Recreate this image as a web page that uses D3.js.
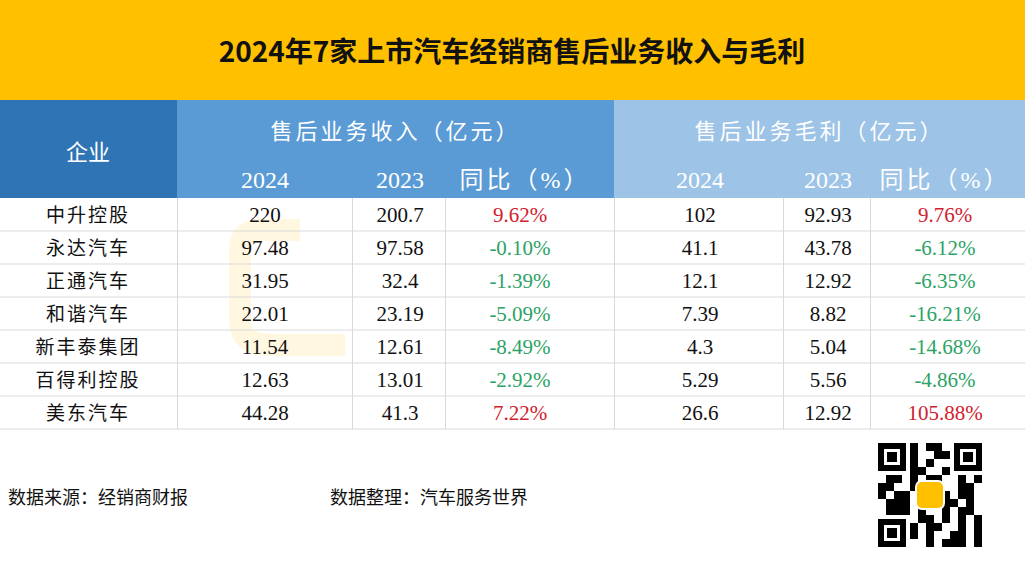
<!DOCTYPE html>
<html><head><meta charset="utf-8">
<script src="https://cdn.jsdelivr.net/npm/d3@7"></script>
<style>body{margin:0;background:#fff}svg{display:block}</style>
</head><body><svg id="c" width="1025" height="564"></svg>
<script>
const title = "2024年7家上市汽车经销商售后业务收入与毛利";
const companies = ["中升控股","永达汽车","正通汽车","和谐汽车","新丰泰集团","百得利控股","美东汽车"];
const rev2024 = ["220","97.48","31.95","22.01","11.54","12.63","44.28"];
const rev2023 = ["200.7","97.58","32.4","23.19","12.61","13.01","41.3"];
const revYoY = ["9.62%","-0.10%","-1.39%","-5.09%","-8.49%","-2.92%","7.22%"];
const gp2024 = ["102","41.1","12.1","7.39","4.3","5.29","26.6"];
const gp2023 = ["92.93","43.78","12.92","8.82","5.04","5.56","12.92"];
const gpYoY = ["9.76%","-6.12%","-6.35%","-16.21%","-14.68%","-4.86%","105.88%"];
const groupHeaders = ["售后业务收入（亿元）","售后业务毛利（亿元）"];
const subHeaders = ["2024","2023","同比（%）"];
const firstHeader = "企业";
const sources = ["数据来源：经销商财报","数据整理：汽车服务世界"];

const svg = d3.select("#c");
const serif = "'Liberation Serif','Noto Sans CJK SC',serif";
const cjk = "'Noto Sans CJK SC',sans-serif";
const colEdges = [0,177,352,445,614,783,870,1025];
const y = d3.scaleBand().domain(d3.range(companies.length)).range([198,429]);

svg.append("rect").attr("width",1025).attr("height",100).attr("fill","#FFC000");
svg.append("text").attr("x",512).attr("y",62).attr("text-anchor","middle")
  .attr("font-family",cjk).attr("font-weight","bold").attr("font-size",28).attr("fill","#111").text(title);

svg.append("rect").attr("x",0).attr("y",100).attr("width",177).attr("height",98).attr("fill","#2F75B5");
svg.append("rect").attr("x",177).attr("y",100).attr("width",437).attr("height",98).attr("fill","#5B9BD5");
svg.append("rect").attr("x",614).attr("y",100).attr("width",411).attr("height",98).attr("fill","#9DC3E6");
svg.append("text").attr("x",88).attr("y",160).attr("text-anchor","middle").attr("font-family",cjk)
  .attr("font-size",22).attr("fill","#fff").text(firstHeader);
[[177,614],[614,1025]].forEach((g,i)=>{
  svg.append("text").attr("x",(g[0]+g[1])/2).attr("y",139).attr("text-anchor","middle").attr("font-family",cjk)
    .attr("font-size",22).attr("fill","#fff").attr("letter-spacing",3).text(groupHeaders[i]);
});
const subX = [265,400,525,700,828,945];
subX.forEach((x,i)=>{
  svg.append("text").attr("x",x).attr("y",188).attr("text-anchor","middle").attr("font-family",serif)
    .attr("font-size",24).attr("fill","#fff").attr("letter-spacing",i%3==2?3:0).text(subHeaders[i%3]);
});

// faint watermark mark (shape only)
svg.append("path").attr("d","M300,230 L260,230 Q240,230 240,250 L240,320 Q240,345 270,345 L345,345")
  .attr("fill","none").attr("stroke","#FFC000").attr("stroke-width",22).attr("opacity",0.12);

const grid = svg.append("g").attr("stroke","#d9d9d9").attr("stroke-width",1);
companies.forEach((c,i)=>{
  grid.append("line").attr("x1",0).attr("x2",1025).attr("y1",y(i)+y.bandwidth()).attr("y2",y(i)+y.bandwidth());
});
colEdges.slice(1,-1).forEach(x=>grid.append("line").attr("x1",x+0.5).attr("x2",x+0.5).attr("y1",198).attr("y2",429));

const cols = [rev2024,rev2023,revYoY,gp2024,gp2023,gpYoY];
const valX = [265,400,520,700,828,945];
companies.forEach((c,i)=>{
  const cy = y(i)+y.bandwidth()/2+7;
  svg.append("text").attr("x",88).attr("y",cy).attr("text-anchor","middle").attr("font-family",cjk)
    .attr("font-size",19).attr("fill","#111").attr("letter-spacing",2).text(c);
  cols.forEach((arr,j)=>{
    const v = arr[i];
    let fill = "#111";
    if (j%3==2) fill = v.startsWith("-") ? "#2BA365" : "#D0212E";
    svg.append("text").attr("x",valX[j]).attr("y",cy).attr("text-anchor","middle").attr("font-family",serif)
      .attr("font-size",21).attr("fill",fill).text(v);
  });
});

svg.append("text").attr("x",8).attr("y",504).attr("font-family",cjk).attr("font-size",18).attr("fill","#111").text(sources[0]);
svg.append("text").attr("x",330).attr("y",504).attr("font-family",cjk).attr("font-size",18).attr("fill","#111").text(sources[1]);

const qr = svg.append("g").attr("transform","translate(878,443)");
qr.append("rect").attr("width",104).attr("height",104).attr("fill","#fff");
[[0,0],[76,0],[0,76]].forEach(p=>{
  qr.append("rect").attr("x",p[0]+3).attr("y",p[1]+3).attr("width",22).attr("height",22).attr("fill","none").attr("stroke","#000").attr("stroke-width",6);
  qr.append("rect").attr("x",p[0]+9).attr("y",p[1]+9).attr("width",10).attr("height",10).attr("fill","#000");
});
const qrBits = "1011010011101001100101101011001011100110100110101101001011001110010110100111010010110011010101101100101101001101001011";
let k=0;
for(let r=0;r<13;r++)for(let cc=0;cc<13;cc++){
  const inFinder=(r<4&&cc<4)||(r<4&&cc>8)||(r>8&&cc<4);
  if(inFinder)continue;
  if(qrBits[(k++)%qrBits.length]==="1") qr.append("rect").attr("x",cc*8).attr("y",r*8).attr("width",8).attr("height",8).attr("fill","#000");
}
qr.append("rect").attr("x",38).attr("y",38).attr("width",28).attr("height",28).attr("rx",6).attr("fill","#FFC000").attr("stroke","#fff").attr("stroke-width",2);
</script></body></html>
